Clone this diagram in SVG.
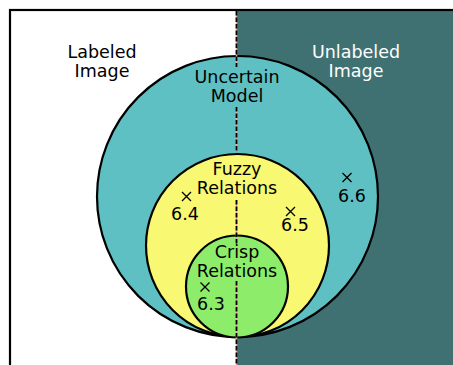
<svg xmlns="http://www.w3.org/2000/svg" width="453" height="365" viewBox="0 0 453 365">
<style>
text{font-family:"DejaVu Sans","Noto Sans",sans-serif;font-size:17.5px;text-anchor:middle;fill:#000}
.w{fill:#fff}
.c{stroke:#000;stroke-width:2.2}
.x{stroke:#000;stroke-width:1.3;fill:none}
.pk{stroke:#f0a89e;stroke-width:1.6}
.dk{stroke:#000;stroke-width:1.8;stroke-dasharray:4.5 2}
</style>
<rect width="453" height="365" fill="#fff"/>
<rect x="236.5" y="10" width="220" height="360" fill="#3f7173"/>
<rect x="10" y="10" width="460" height="370" fill="none" stroke="#000" stroke-width="2.2"/>
<g id="unlabeled"><text class="w" x="356" y="58">Unlabeled</text><text class="w" x="356" y="77">Image</text></g>
<g id="labeled"><text x="102" y="58">Labeled</text><text x="102" y="77">Image</text></g>
<g id="uncertain">
<circle class="c" cx="237.5" cy="196.5" r="140.5" fill="#5fc0c3"/>
<text x="237" y="83">Uncertain</text><text x="237" y="102">Model</text>
</g>
<g id="fuzzy">
<circle class="c" cx="237.5" cy="245.5" r="91.5" fill="#f8f872"/>
<text x="237" y="175">Fuzzy</text><text x="237" y="194">Relations</text>
</g>
<g id="crisp">
<circle class="c" cx="237" cy="286.5" r="51" fill="#8ded6a"/>
<text x="237" y="258">Crisp</text><text x="237" y="277">Relations</text>
</g>
<g id="connectors">
<path class="pk" d="M236.5 11V67M236.5 107V151M236.5 200V244M236.5 281V365"/>
<path class="dk" d="M236.5 11V67M236.5 107V151M236.5 200V244M236.5 281V365"/>
</g>
<g id="p64"><path class="x" d="M182 192l9 9M191 192l-9 9"/><text x="185" y="220">6.4</text></g>
<g id="p65"><path class="x" d="M286 207l9 9M295 207l-9 9"/><text x="295" y="231">6.5</text></g>
<g id="p66"><path class="x" d="M342.5 173l9 9M351.5 173l-9 9"/><text x="352" y="202">6.6</text></g>
<g id="p63"><path class="x" d="M200.5 282.5l9 9M209.5 282.5l-9 9"/><text x="211" y="310">6.3</text></g>
</svg>
